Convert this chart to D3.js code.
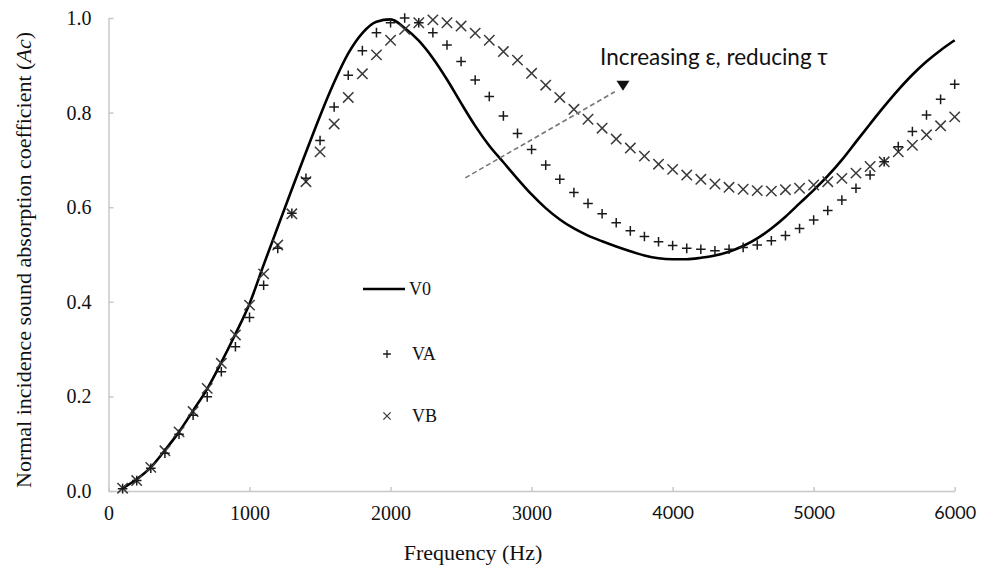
<!DOCTYPE html>
<html>
<head>
<meta charset="utf-8">
<script src="https://cdn.jsdelivr.net/npm/d3@7"></script>
<style>
  body { margin: 0; background: #fff; }
  svg { display: block; }
  .serif { font-family: "Liberation Serif", "Times New Roman", serif; }
  .sans { font-family: Lato, "Open Sans", sans-serif; }
</style>
</head>
<body>
<svg id="chart" width="989" height="572"></svg>
<script>
// frequency (Hz) of each sample
const freqs = [100, 200, 300, 400, 500, 600, 700, 800, 900, 1000,
    1100, 1200, 1300, 1400, 1500, 1600, 1700, 1800, 1900, 2000,
    2100, 2200, 2300, 2400, 2500, 2600, 2700, 2800, 2900, 3000,
    3100, 3200, 3300, 3400, 3500, 3600, 3700, 3800, 3900, 4000,
    4100, 4200, 4300, 4400, 4500, 4600, 4700, 4800, 4900, 5000,
    5100, 5200, 5300, 5400, 5500, 5600, 5700, 5800, 5900, 6000]

// V0 (solid line)
const v0 = [0.006, 0.025, 0.050, 0.086, 0.125, 0.170, 0.216, 0.272, 0.332, 0.396,
    0.478, 0.558, 0.638, 0.716, 0.793, 0.864, 0.925, 0.968, 0.992, 0.997,
    0.979, 0.952, 0.915, 0.870, 0.820, 0.772, 0.730, 0.695, 0.660, 0.627,
    0.598, 0.574, 0.555, 0.540, 0.528, 0.517, 0.507, 0.498, 0.492, 0.490,
    0.490, 0.493, 0.498, 0.506, 0.518, 0.534, 0.555, 0.580, 0.608, 0.636,
    0.666, 0.700, 0.738, 0.776, 0.813, 0.848, 0.880, 0.908, 0.932, 0.953]

// VA (+ markers)
const va = [0.005, 0.022, 0.048, 0.080, 0.120, 0.160, 0.199, 0.252, 0.305, 0.367,
    0.435, 0.513, 0.587, 0.661, 0.741, 0.812, 0.879, 0.931, 0.969, 0.990,
    1.000, 0.990, 0.969, 0.943, 0.908, 0.869, 0.834, 0.793, 0.756, 0.722,
    0.689, 0.659, 0.631, 0.608, 0.586, 0.567, 0.550, 0.538, 0.527, 0.519,
    0.513, 0.511, 0.508, 0.511, 0.515, 0.520, 0.529, 0.540, 0.555, 0.573,
    0.593, 0.615, 0.640, 0.668, 0.696, 0.728, 0.760, 0.795, 0.828, 0.860]

// VB (x markers)
const vb = [0.006, 0.022, 0.050, 0.085, 0.125, 0.168, 0.217, 0.270, 0.330, 0.393,
    0.459, 0.520, 0.586, 0.654, 0.717, 0.776, 0.832, 0.882, 0.922, 0.953,
    0.976, 0.990, 0.996, 0.990, 0.983, 0.968, 0.953, 0.929, 0.911, 0.883,
    0.858, 0.832, 0.807, 0.786, 0.767, 0.744, 0.725, 0.708, 0.691, 0.680,
    0.668, 0.659, 0.649, 0.642, 0.638, 0.635, 0.634, 0.637, 0.640, 0.647,
    0.654, 0.661, 0.672, 0.686, 0.696, 0.717, 0.731, 0.753, 0.772, 0.791]

const xTicks = [0, 1000, 2000, 3000, 4000, 5000, 6000]
const yTicks = [0, 0.2, 0.4, 0.6, 0.8, 1.0]

const svg = d3.select("#chart")

const x = d3.scaleLinear().domain([0, 6000]).range([108.5, 954.7])
const y = d3.scaleLinear().domain([0, 1]).range([491, 18])

// axes
const xAxis = svg.append("g")
    .attr("transform", "translate(0," + y(0) + ")")
    .call(d3.axisBottom(x).tickValues(xTicks).tickSizeInner(-4).tickSizeOuter(0).tickPadding(15)
        .tickFormat(d3.format("d")))

const yAxis = svg.append("g")
    .attr("transform", "translate(" + x(0) + ",0)")
    .call(d3.axisLeft(y).tickValues(yTicks).tickSizeInner(-5).tickSizeOuter(0).tickPadding(17)
        .tickFormat(d3.format(".1f")))

svg.selectAll(".domain, .tick line").attr("stroke", "#c8c8c8").attr("stroke-width", 1.5)
xAxis.selectAll(".tick text")
    .attr("class", d => d >= 4000 ? "sans" : "serif")
    .attr("fill", "#111")
    .style("font-size", d => d >= 4000 ? "18px" : "20px")
yAxis.selectAll(".tick text").attr("class", "serif").attr("fill", "#111").style("font-size", "20px")

// V0 line
const line = d3.line()
    .x((d, i) => x(freqs[i]))
    .y(d => y(d))
    .curve(d3.curveMonotoneX)

svg.append("path")
    .datum(v0)
    .attr("fill", "none")
    .attr("stroke", "#000")
    .attr("stroke-width", 2.6)
    .attr("d", line)

const plus = d3.symbol(d3.symbolPlus, 32)
const times = d3.symbol(d3.symbolTimes, 72)

svg.append("g").selectAll("path")
    .data(vb).enter().append("path")
    .attr("transform", (d, i) => "translate(" + x(freqs[i]) + "," + y(d) + ")")
    .attr("d", times)
    .attr("fill", "none")
    .attr("stroke", "#3a3a3a")
    .attr("stroke-width", 1.5)

svg.append("g").selectAll("path")
    .data(va).enter().append("path")
    .attr("transform", (d, i) => "translate(" + x(freqs[i]) + "," + y(d) + ")")
    .attr("d", plus)
    .attr("fill", "none")
    .attr("stroke", "#1a1a1a")
    .attr("stroke-width", 1.5)

// annotation arrow
svg.append("line")
    .attr("x1", x(2530)).attr("y1", y(0.662))
    .attr("x2", x(3590)).attr("y2", y(0.844))
    .attr("stroke", "#777")
    .attr("stroke-width", 1.6)
    .attr("stroke-dasharray", "5,3")

const tip = [x(3648), y(0.846)]
svg.append("path")
    .attr("d", "M" + (tip[0] - 6.5) + "," + (tip[1] - 10) + "L" + (tip[0] + 6.5) + "," + (tip[1] - 10) + "L" + tip[0] + "," + tip[1] + "Z")
    .attr("fill", "#111")

svg.append("text")
    .attr("class", "sans")
    .attr("x", x(3485)).attr("y", y(0.9))
    .style("font-size", "22.5px")
    .attr("fill", "#111")
    .text("Increasing ε, reducing τ")

// legend
const legend = svg.append("g").attr("class", "serif").style("font-size", "18px").attr("fill", "#111")

legend.append("line")
    .attr("x1", 363).attr("x2", 405).attr("y1", 289).attr("y2", 289)
    .attr("stroke", "#000").attr("stroke-width", 2.6)
legend.append("text").attr("x", 409).attr("y", 289).attr("dy", "0.35em").text("V0")

legend.append("path")
    .attr("transform", "translate(387,354)")
    .attr("d", d3.symbol(d3.symbolPlus, 22)())
    .attr("stroke", "#1a1a1a").attr("stroke-width", 1.3).attr("fill", "none")
legend.append("text").attr("x", 412).attr("y", 354).attr("dy", "0.35em").text("VA")

legend.append("path")
    .attr("transform", "translate(387,416)")
    .attr("d", d3.symbol(d3.symbolTimes, 36)())
    .attr("stroke", "#3a3a3a").attr("stroke-width", 1.3).attr("fill", "none")
legend.append("text").attr("x", 412).attr("y", 416).attr("dy", "0.35em").text("VB")

// axis titles
svg.append("text")
    .attr("class", "serif")
    .attr("x", 473).attr("y", 560)
    .attr("text-anchor", "middle")
    .style("font-size", "22px")
    .attr("fill", "#111")
    .text("Frequency (Hz)")

const yTitle = svg.append("text")
    .attr("class", "serif")
    .attr("transform", "translate(31,260) rotate(-90)")
    .attr("text-anchor", "middle")
    .style("font-size", "22px")
    .attr("fill", "#111")
yTitle.append("tspan").text("Normal incidence sound absorption coefficient (")
yTitle.append("tspan").style("font-style", "italic").text("Ac")
yTitle.append("tspan").text(")")
</script>
</body>
</html>
